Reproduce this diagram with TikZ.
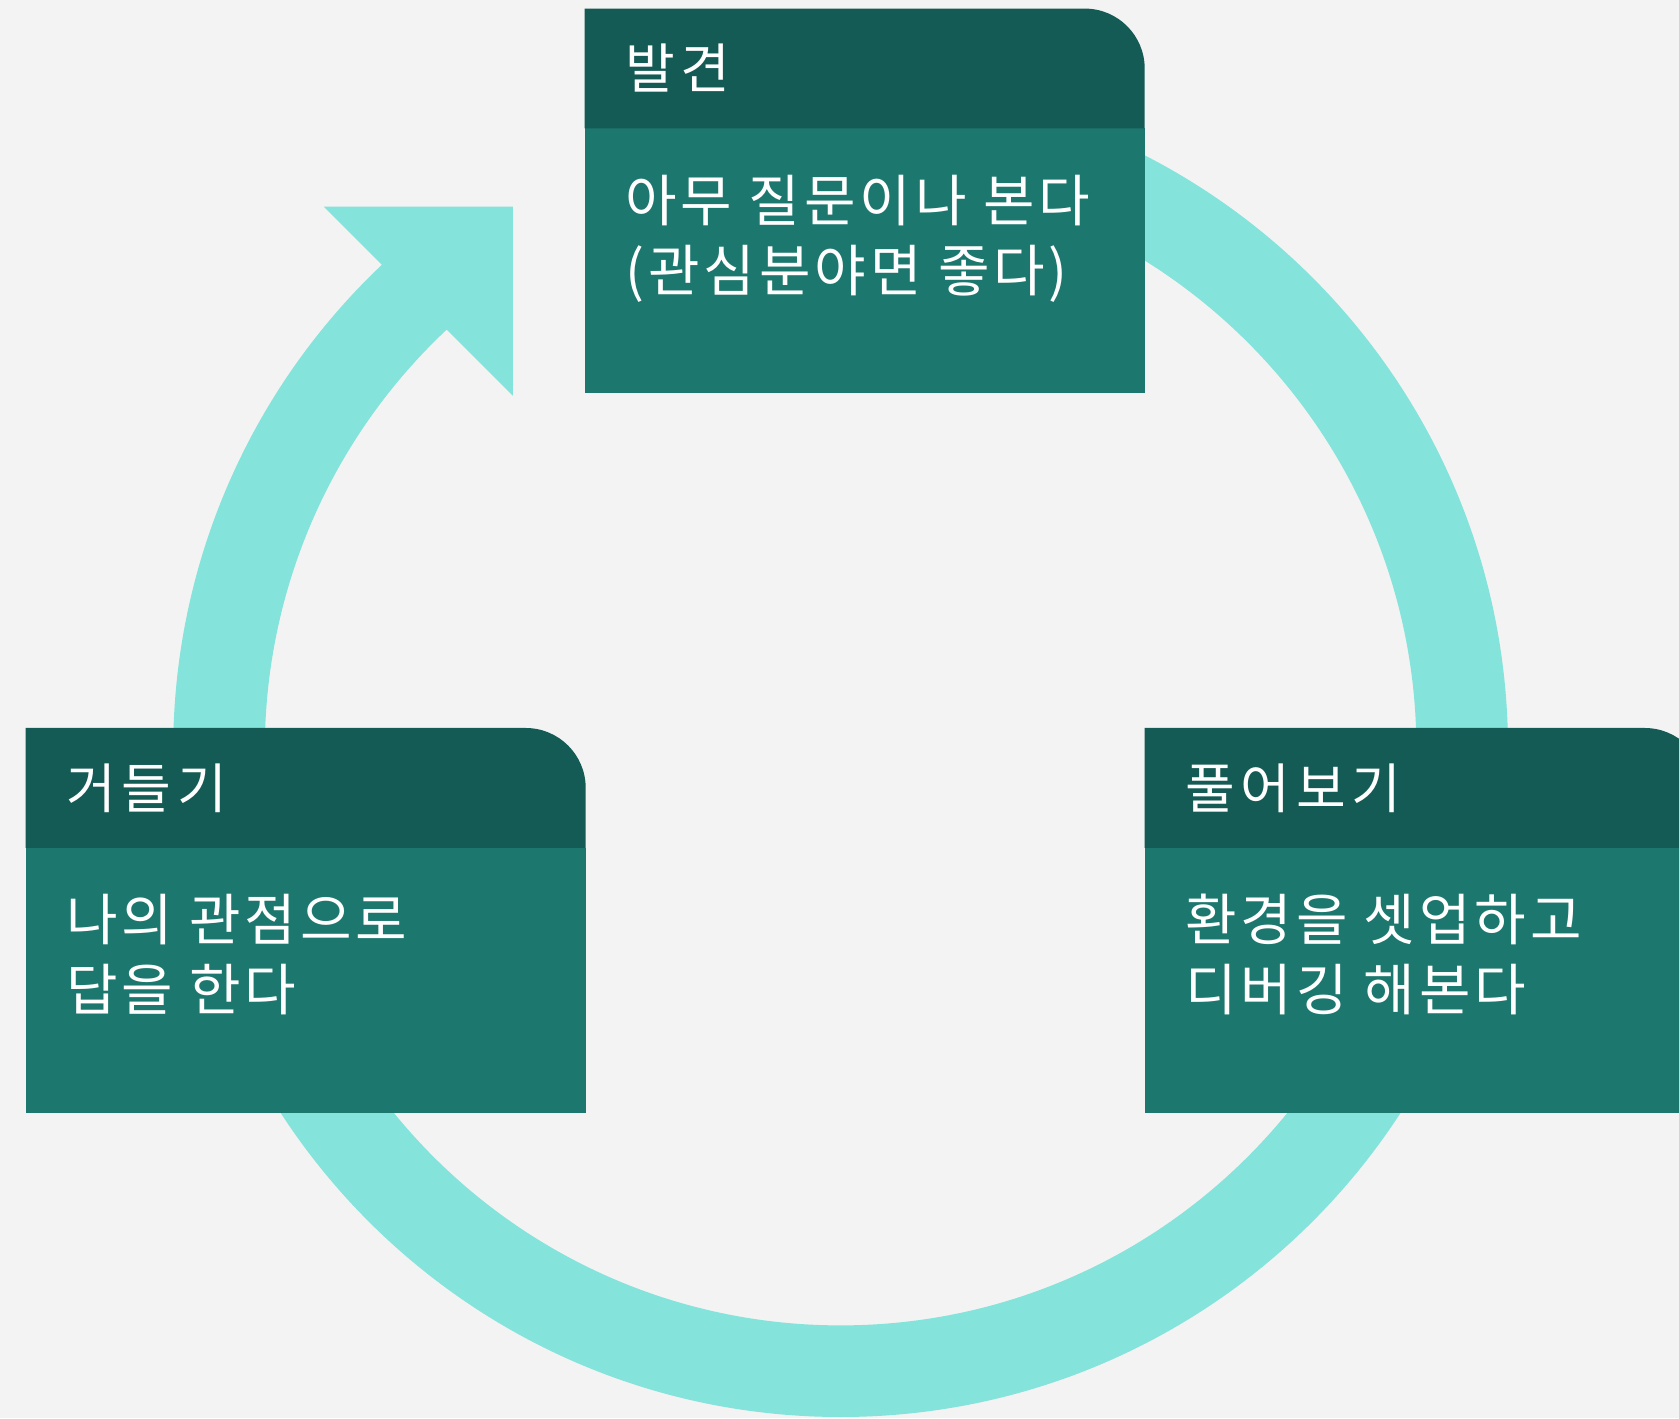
\documentclass[tikz,border=0pt]{standalone}
\usepackage{fontspec}
\newfontfamily\krhead[LetterSpace=11]{Noto Sans CJK KR}
\newfontfamily\krbody[LetterSpace=7]{Noto Sans CJK KR}
\definecolor{bg}{HTML}{F3F3F3}
\definecolor{ringc}{HTML}{84E3DA}
\definecolor{hdr}{HTML}{155B55}
\definecolor{bdy}{HTML}{1C786E}
\begin{document}
\begin{tikzpicture}[x=0.5pt,y=0.5pt,
  hdrtext/.style={text=white, anchor=west, inner sep=0pt, font=\krhead\fontsize{27}{33}\selectfont},
  bodytext/.style={text=white, anchor=north west, inner sep=0pt, align=left, font=\krbody\fontsize{28}{35}\selectfont},
  ringstyle/.style={draw=ringc, line width=45.8pt},
  hdrfill/.style={fill=hdr},
  bdyfill/.style={fill=bdy}]
\useasboundingbox (0,0) rectangle (1679,1418);
\clip (0,0) rectangle (1679,1418);
\fill[bg] (0,0) rectangle (1679,1418);
% cycle ring
\coordinate (ctr) at (840.6,668.4);
\draw[ringstyle] (ctr) ++(90:621.6) arc[start angle=90, end angle=-228, radius=621.6];
% arrow head
\fill[ringc] (323.9,1211.3) -- (512.9,1211.3) -- (512.9,1022.3) -- cycle;
% top box
\fill[bdyfill] (584.7,1025) rectangle (1144.7,1289.5);
\fill[hdrfill] (584.7,1289.5) -- (584.7,1409.4) -- (1084.7,1409.4) arc[start angle=90,end angle=0,radius=60] -- (1144.7,1289.5) -- cycle;
% left box
\fill[bdyfill] (25.7,305.4) rectangle (585.7,570);
\fill[hdrfill] (25.7,570) -- (25.7,690) -- (525.7,690) arc[start angle=90,end angle=0,radius=60] -- (585.7,570) -- cycle;
% right box
\fill[bdyfill] (1144.7,305.4) rectangle (1704.7,570);
\fill[hdrfill] (1144.7,570) -- (1144.7,690) -- (1644.7,690) arc[start angle=90,end angle=0,radius=60] -- (1704.7,570) -- cycle;
% texts
\node[hdrtext] (h1) at (625,1349.5) {발견};
\node[bodytext] (b1) at (625,1243.5) {아무 질문이나 본다\\(관심분야면 좋다)};
\node[hdrtext] (h2) at (65.7,630) {거들기};
\node[bodytext] (b2) at (65.7,524) {나의 관점으로\\답을 한다};
\node[hdrtext] (h3) at (1184.7,630) {풀어보기};
\node[bodytext] (b3) at (1184.7,524) {환경을 셋업하고\\디버깅 해본다};
\end{tikzpicture}
\end{document}
